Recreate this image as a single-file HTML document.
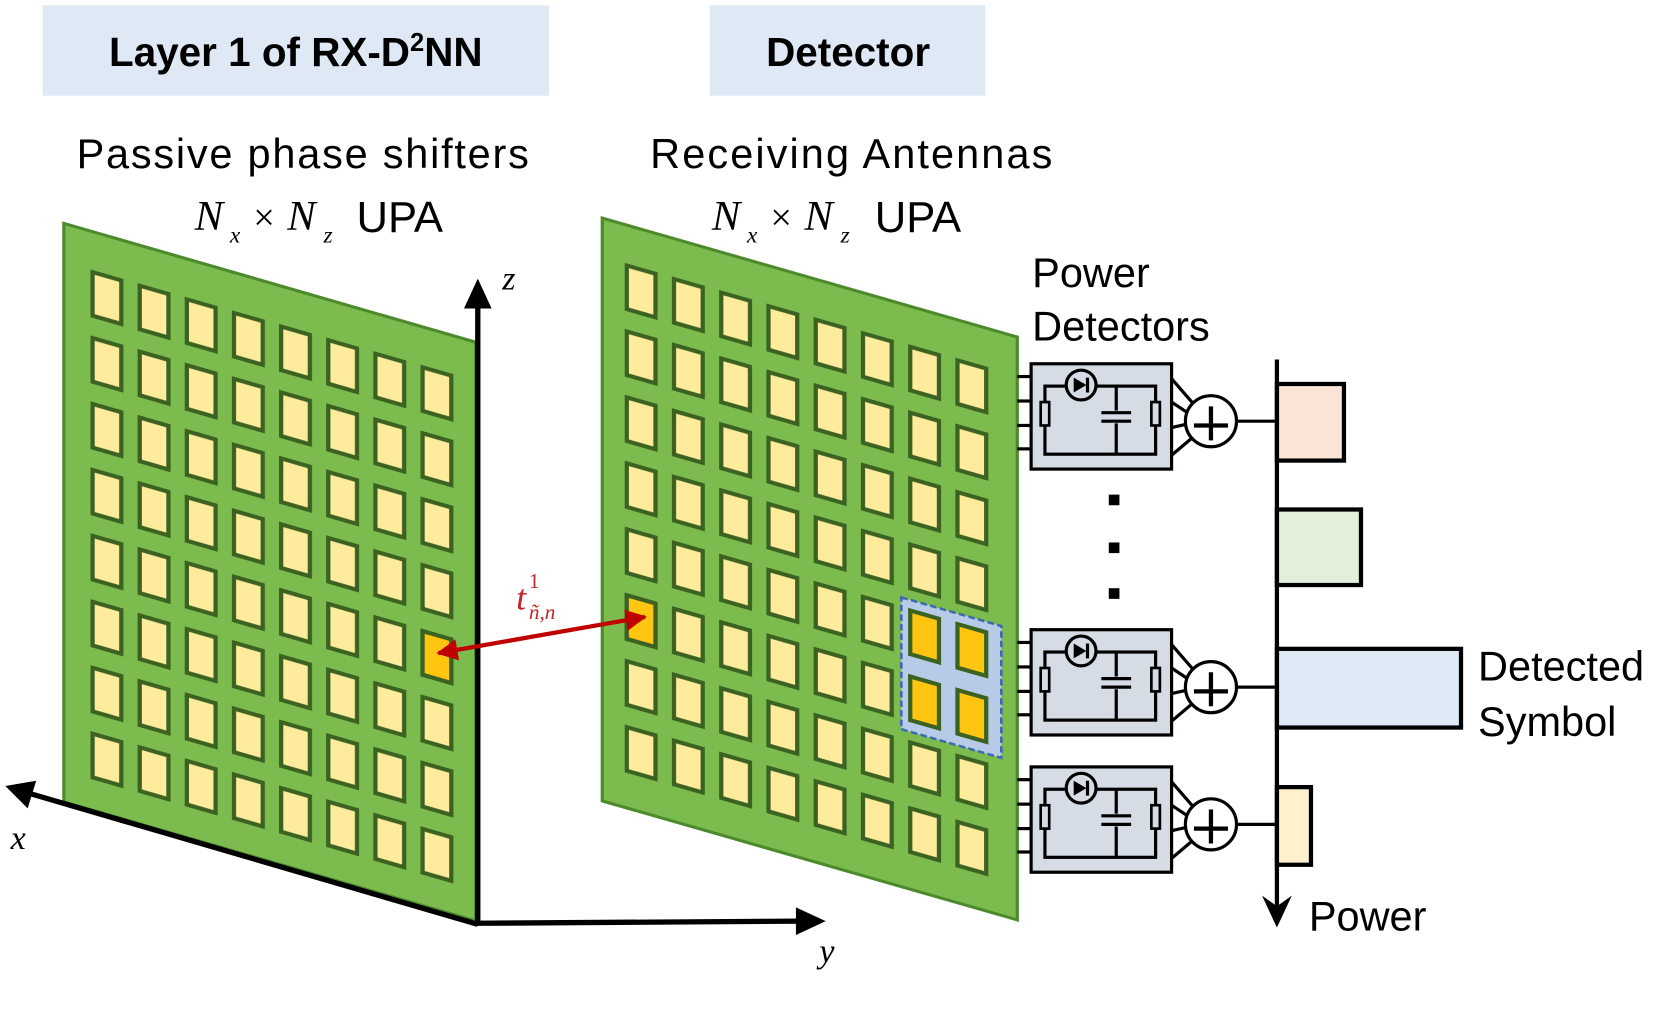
<!DOCTYPE html>
<html><head><meta charset="utf-8"><style>html,body{margin:0;padding:0;background:#fff}svg{display:block}</style></head>
<body>
<svg width="1660" height="1019" viewBox="0 0 1560 958" preserveAspectRatio="none" xmlns="http://www.w3.org/2000/svg">
<defs>
<pattern id="pL" x="25" y="36" width="44.3" height="62" patternUnits="userSpaceOnUse">
<rect x="2" y="2" width="27" height="41" fill="#ffeb9c" stroke="#3b6220" stroke-width="4"/>
</pattern>
<pattern id="pR" x="21" y="36" width="44.4" height="62" patternUnits="userSpaceOnUse">
<rect x="2" y="2" width="27" height="41" fill="#ffeb9c" stroke="#3b6220" stroke-width="4"/>
</pattern>
<marker id="ah" viewBox="0 0 10 10" refX="9" refY="5" markerWidth="5" markerHeight="5" orient="auto-start-reverse" markerUnits="strokeWidth"><path d="M0,0L10,5L0,10z" fill="#c00000"/></marker>
<g id="det">
<rect x="0" y="0" width="132" height="99" fill="#d6dce5" stroke="#000" stroke-width="3"/>
<line x1="-13" y1="12" x2="0" y2="12" stroke="#000" stroke-width="3"/>
<line x1="-13" y1="35" x2="0" y2="35" stroke="#000" stroke-width="3"/>
<line x1="-13" y1="58" x2="0" y2="58" stroke="#000" stroke-width="3"/>
<line x1="-13" y1="80" x2="0" y2="80" stroke="#000" stroke-width="3"/>
<rect x="13" y="21" width="104" height="64" fill="none" stroke="#000" stroke-width="3"/>
<circle cx="47" cy="20" r="14" fill="#d6dce5" stroke="#000" stroke-width="3"/>
<path d="M40,13L52,20L40,27z" fill="#000"/><line x1="53" y1="13" x2="53" y2="27" stroke="#000" stroke-width="3"/>
<line x1="80" y1="21" x2="80" y2="85" stroke="#000" stroke-width="3"/>
<rect x="66" y="44" width="28" height="12" fill="#d6dce5"/>
<line x1="66" y1="46" x2="94" y2="46" stroke="#000" stroke-width="3"/>
<line x1="66" y1="54" x2="94" y2="54" stroke="#000" stroke-width="3"/>
<rect x="9" y="36" width="8" height="22" fill="#d6dce5" stroke="#000" stroke-width="2.5"/>
<rect x="113" y="36" width="8" height="22" fill="#d6dce5" stroke="#000" stroke-width="2.5"/>
<path d="M132,14L158,44M132,36L150,48M132,60L150,56M132,86L158,64" stroke="#000" stroke-width="3" fill="none"/>
<circle cx="169" cy="54" r="24" fill="#fff" stroke="#000" stroke-width="3"/>
<path d="M169,40V72M153,58H185" stroke="#000" stroke-width="4"/>
<line x1="193" y1="54" x2="231" y2="54" stroke="#000" stroke-width="3"/>
</g>
</defs>

<rect x="40" y="5" width="476" height="85" fill="#dee9f5"/>
<rect x="667" y="5" width="259" height="85" fill="#dee9f5"/>
<g font-family="Liberation Sans, Arial, sans-serif" font-weight="bold" font-size="38" fill="#000" text-anchor="middle">
<text x="278" y="62">Layer 1 of RX-D<tspan font-size="24" dy="-14">2</tspan><tspan dy="14">NN</tspan></text>
<text x="797" y="62">Detector</text>
</g>
<g font-family="Liberation Sans, Arial, sans-serif" font-size="39" fill="#000">
<text x="72" y="158" textLength="425">Passive phase shifters</text>
<text x="611" y="158" textLength="378">Receiving Antennas</text>
<text x="335" y="218" font-size="41">UPA</text>
<text x="822" y="218" font-size="41">UPA</text>
<text x="970" y="270">Power</text>
<text x="970" y="320">Detectors</text>
<text x="1389" y="640">Detected</text>
<text x="1389" y="692">Symbol</text>
<text x="1230" y="875">Power</text>
</g>
<g font-family="Liberation Serif, serif" font-style="italic" fill="#000">
<text x="183" y="216" font-size="40">N</text><text x="216" y="228" font-size="22">x</text>
<text x="238" y="216" font-size="36" font-style="normal">×</text>
<text x="270" y="216" font-size="40">N</text><text x="304" y="228" font-size="22">z</text>
<text x="669" y="216" font-size="40">N</text><text x="702" y="228" font-size="22">x</text>
<text x="724" y="216" font-size="36" font-style="normal">×</text>
<text x="756" y="216" font-size="40">N</text><text x="790" y="228" font-size="22">z</text>
<text x="472" y="272" font-size="32">z</text>
<text x="770" y="905" font-size="32">y</text>
<text x="10" y="798" font-size="32">x</text>
</g>

<!-- left panel -->
<g transform="translate(60,210) skewY(16.1)">
<rect x="0" y="0" width="387" height="544" fill="#7cbb4e" stroke="#4c8a2c" stroke-width="3"/>
<rect x="25" y="36" width="350" height="482" fill="url(#pL)"/>
<rect x="337.1" y="286" width="27" height="41" fill="#ffc510" stroke="#3b6220" stroke-width="4"/>
</g>
<!-- right panel -->
<g transform="translate(566,205) skewY(16)">
<rect x="0" y="0" width="390" height="548" fill="#7cbb4e" stroke="#4c8a2c" stroke-width="3"/>
<rect x="21" y="36" width="350" height="482" fill="url(#pR)"/>
<rect x="281" y="276" width="94" height="124" fill="#b7cbe8" stroke="#3d6bb0" stroke-width="2.5" stroke-dasharray="6,3"/>
<rect x="23" y="348" width="27" height="41" fill="#ffc510" stroke="#3b6220" stroke-width="4"/>
<rect x="289.4" y="286" width="27" height="41" fill="#ffc510" stroke="#3b6220" stroke-width="4"/>
<rect x="333.8" y="286" width="27" height="41" fill="#ffc510" stroke="#3b6220" stroke-width="4"/>
<rect x="289.4" y="348" width="27" height="41" fill="#ffc510" stroke="#3b6220" stroke-width="4"/>
<rect x="333.8" y="348" width="27" height="41" fill="#ffc510" stroke="#3b6220" stroke-width="4"/>
</g>

<!-- axes -->
<g stroke="#000" stroke-width="5" fill="none">
<line x1="449" y1="868" x2="449" y2="285"/>
<line x1="447" y1="868" x2="752" y2="866"/>
<line x1="449" y1="869" x2="28" y2="746"/>
</g>
<path d="M449,262L436,290L462,290z" fill="#000"/>
<path d="M776,866L748,853L748,879z" fill="#000"/>
<path d="M5,739L34,734L26,760z" fill="#000"/>

<!-- red arrow -->
<line x1="412" y1="614" x2="606" y2="580" stroke="#c00000" stroke-width="4" marker-start="url(#ah)" marker-end="url(#ah)"/>
<g font-family="Liberation Serif, serif" font-style="italic" fill="#c0282a">
<text x="485" y="573" font-size="34">t</text>
<text x="497" y="553" font-size="20" font-style="normal">1</text>
<text x="497" y="582" font-size="20">ñ,n</text>
</g>

<!-- detectors -->
<use href="#det" x="969" y="342"/>
<use href="#det" x="969" y="592"/>
<use href="#det" x="969" y="721"/>
<rect x="1042" y="465" width="10" height="10" fill="#000"/>
<rect x="1042" y="510" width="10" height="10" fill="#000"/>
<rect x="1042" y="553" width="10" height="10" fill="#000"/>

<!-- bars -->
<rect x="1200" y="361" width="63" height="72" fill="#fbe5d6" stroke="#000" stroke-width="4"/>
<rect x="1200" y="479" width="79" height="71" fill="#e2efda" stroke="#000" stroke-width="4"/>
<rect x="1200" y="610" width="173" height="74" fill="#deebf7" stroke="#000" stroke-width="4"/>
<rect x="1200" y="740" width="32" height="73" fill="#fff2cc" stroke="#000" stroke-width="4"/>
<line x1="1200" y1="338" x2="1200" y2="855" stroke="#000" stroke-width="4"/>
<path d="M1186,842L1200,872L1214,842L1200,852z" fill="#000"/>
</svg>
</body></html>
